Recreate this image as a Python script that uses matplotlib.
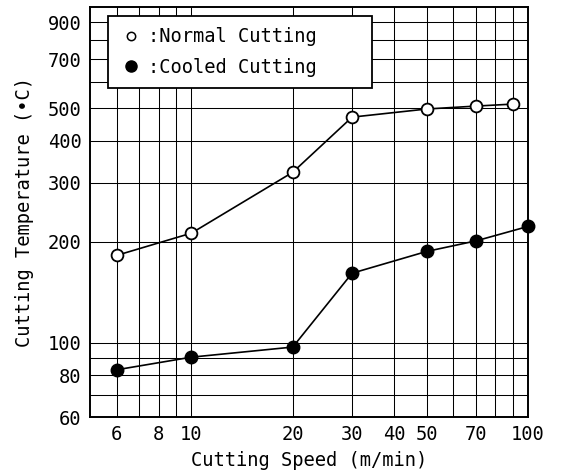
import matplotlib
matplotlib.use('Agg')
import matplotlib.pyplot as plt
from matplotlib.lines import Line2D
from matplotlib.ticker import FixedLocator, NullFormatter

# ── data ─────────────────────────────────────────────────────────────────────
speed_normal = [6, 10, 20, 30, 50, 70, 90]
temp_normal = [182, 212, 322, 470, 497, 507, 514]

speed_cooled = [6, 10, 20, 30, 50, 70, 100]
temp_cooled = [83, 90.5, 97, 161, 187, 201, 222]

x_major = [6, 8, 10, 20, 30, 40, 50, 70, 100]
x_minor = [7, 9, 60, 80, 90]
y_major = [60, 80, 100, 200, 300, 400, 500, 700, 900]
y_minor = [70, 90, 600, 800]

FONT = 'DejaVu Sans Mono'
FS = 13.5

plt.rcParams['font.family'] = [FONT, 'DejaVu Sans']

fig = plt.figure(figsize=(5.63, 4.75), dpi=100, facecolor='white')
ax = fig.add_axes([0.160, 0.122, 0.778, 0.863])

ax.set_xscale('log')
ax.set_yscale('log')
ax.set_xlim(5, 100)
ax.set_ylim(60, 1000)

# ── ticks / grid ────────────────────────────────────────────────────────────
ax.xaxis.set_major_locator(FixedLocator(x_major))
ax.xaxis.set_minor_locator(FixedLocator(x_minor))
ax.set_xticklabels([str(v) for v in x_major])
ax.xaxis.set_minor_formatter(NullFormatter())
ax.yaxis.set_major_locator(FixedLocator(y_major))
ax.yaxis.set_minor_locator(FixedLocator(y_minor))
ax.set_yticklabels([str(v) for v in y_major])
ax.yaxis.set_minor_formatter(NullFormatter())

ax.tick_params(which='both', length=0, labelsize=FS, colors='black', pad=6)
ax.grid(True, which='both', color='black', lw=0.75)
for sp in ax.spines.values():
    sp.set_color('black')
    sp.set_linewidth(1.4)

# ── series ──────────────────────────────────────────────────────────────────
ax.plot(speed_normal, temp_normal, color='black', lw=1.2, marker='o',
        ms=8.5, mfc='white', mec='black', mew=1.3, zorder=3, clip_on=False)
ax.plot(speed_cooled, temp_cooled, color='black', lw=1.2, marker='o',
        ms=9, mfc='black', mec='black', zorder=3, clip_on=False)

ax.set_xlabel('Cutting Speed (m/min)', fontsize=FS, labelpad=5)
ax.set_ylabel('Cutting Temperature (•C)', fontsize=FS, labelpad=10)

handles = [
    Line2D([], [], ls='none', marker='o', ms=6, mfc='white', mec='black', mew=1.1),
    Line2D([], [], ls='none', marker='o', ms=8, mfc='black', mec='black'),
]
leg = ax.legend(handles, [':Normal Cutting', ':Cooled Cutting'],
                loc='upper left', bbox_to_anchor=(0.041, 0.80, 0.603, 0.178),
                mode='expand', fontsize=FS, frameon=True, fancybox=False,
                framealpha=1, edgecolor='black', handlelength=1.3,
                handletextpad=0.25, borderpad=0.6, labelspacing=0.62,
                borderaxespad=0)
leg.get_frame().set_linewidth(1.3)
leg.set_zorder(5)

fig.savefig('out.png', dpi=100)
